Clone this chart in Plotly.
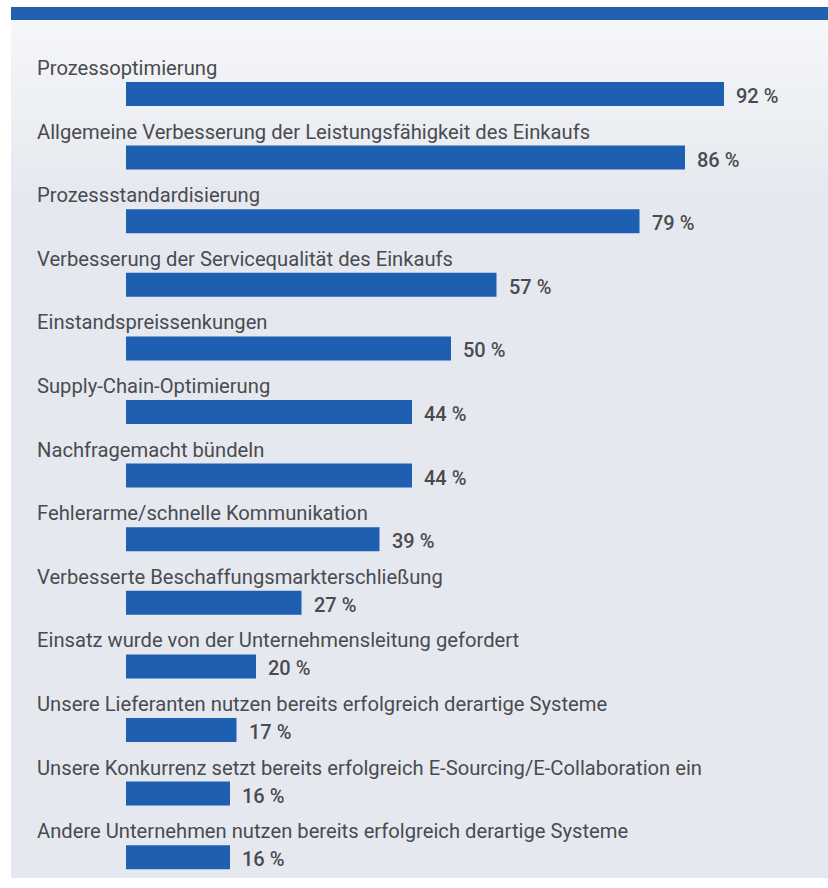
import plotly.graph_objects as go

# Survey results: goals pursued with E-Sourcing / E-Collaboration
categories = [
    "Prozessoptimierung",
    "Allgemeine Verbesserung der Leistungsfähigkeit des Einkaufs",
    "Prozessstandardisierung",
    "Verbesserung der Servicequalität des Einkaufs",
    "Einstandspreissenkungen",
    "Supply-Chain-Optimierung",
    "Nachfragemacht bündeln",
    "Fehlerarme/schnelle Kommunikation",
    "Verbesserte Beschaffungsmarkterschließung",
    "Einsatz wurde von der Unternehmensleitung gefordert",
    "Unsere Lieferanten nutzen bereits erfolgreich derartige Systeme",
    "Unsere Konkurrenz setzt bereits erfolgreich E-Sourcing/E-Collaboration ein",
    "Andere Unternehmen nutzen bereits erfolgreich derartige Systeme",
]
values = [92, 86, 79, 57, 50, 44, 44, 39, 27, 20, 17, 16, 16]
value_labels = [f"{v} %" for v in values]

W, H = 828, 888
BAR = "#1f5fb1"
TEXT = "#4a4b4f"
LABEL_FONT = "Roboto"

n = len(categories)
pos = list(range(n))

# pixel geometry of the plotting frame
x0_px, px_per_pct = 126, 6.5
y0_px, px_per_row = 94, 63.6

x_range = [-x0_px / px_per_pct, (W - x0_px) / px_per_pct]
y_range = [(H - y0_px) / px_per_row, -y0_px / px_per_row]

fig = go.Figure()
fig.add_trace(go.Bar(
    x=values, y=pos, orientation="h",
    width=24 / px_per_row,
    marker=dict(color=BAR, line=dict(width=0)),
    hoverinfo="skip",
))

shapes = []
# page background: light at the top, fading into a cool grey
top = (245, 246, 248)
bot = (229, 233, 239)
steps = 30
for i in range(steps):
    t = i / (steps - 1)
    c = tuple(round(top[k] + (bot[k] - top[k]) * t) for k in range(3))
    y_a = 20 + i * 6
    y_b = y_a + 7 if i < steps - 1 else 878
    shapes.append(dict(type="rect", xref="paper", yref="paper",
                       x0=11 / W, x1=1, y0=1 - y_b / H, y1=1 - y_a / H,
                       fillcolor=f"rgb{c}", line=dict(width=0), layer="below"))
# blue header rule
shapes.append(dict(type="rect", xref="paper", yref="paper",
                   x0=11 / W, x1=1, y0=1 - 20 / H, y1=1 - 7 / H,
                   fillcolor="#2060ac", line=dict(width=0), layer="below"))

annotations = []
label_x = (35 - x0_px) / px_per_pct
for i, (cat, v, lab) in enumerate(zip(categories, values, value_labels)):
    annotations.append(dict(
        x=label_x, y=i, xref="x", yref="y", text=cat, showarrow=False,
        xanchor="left", yanchor="middle", yshift=26,
        font=dict(family=LABEL_FONT, size=20.2, color=TEXT),
    ))
    annotations.append(dict(
        x=v, y=i, xref="x", yref="y", text=lab, showarrow=False,
        xanchor="left", yanchor="middle", xshift=10, yshift=-2,
        font=dict(family=LABEL_FONT, size=20, color=TEXT, weight=500),
    ))

fig.update_layout(
    width=W, height=H,
    margin=dict(l=0, r=0, t=0, b=0),
    paper_bgcolor="white", plot_bgcolor="rgba(0,0,0,0)",
    showlegend=False,
    xaxis=dict(range=x_range, visible=False, fixedrange=True),
    yaxis=dict(range=y_range, visible=False, fixedrange=True),
    shapes=shapes, annotations=annotations,
)

fig.write_html("out.html")
